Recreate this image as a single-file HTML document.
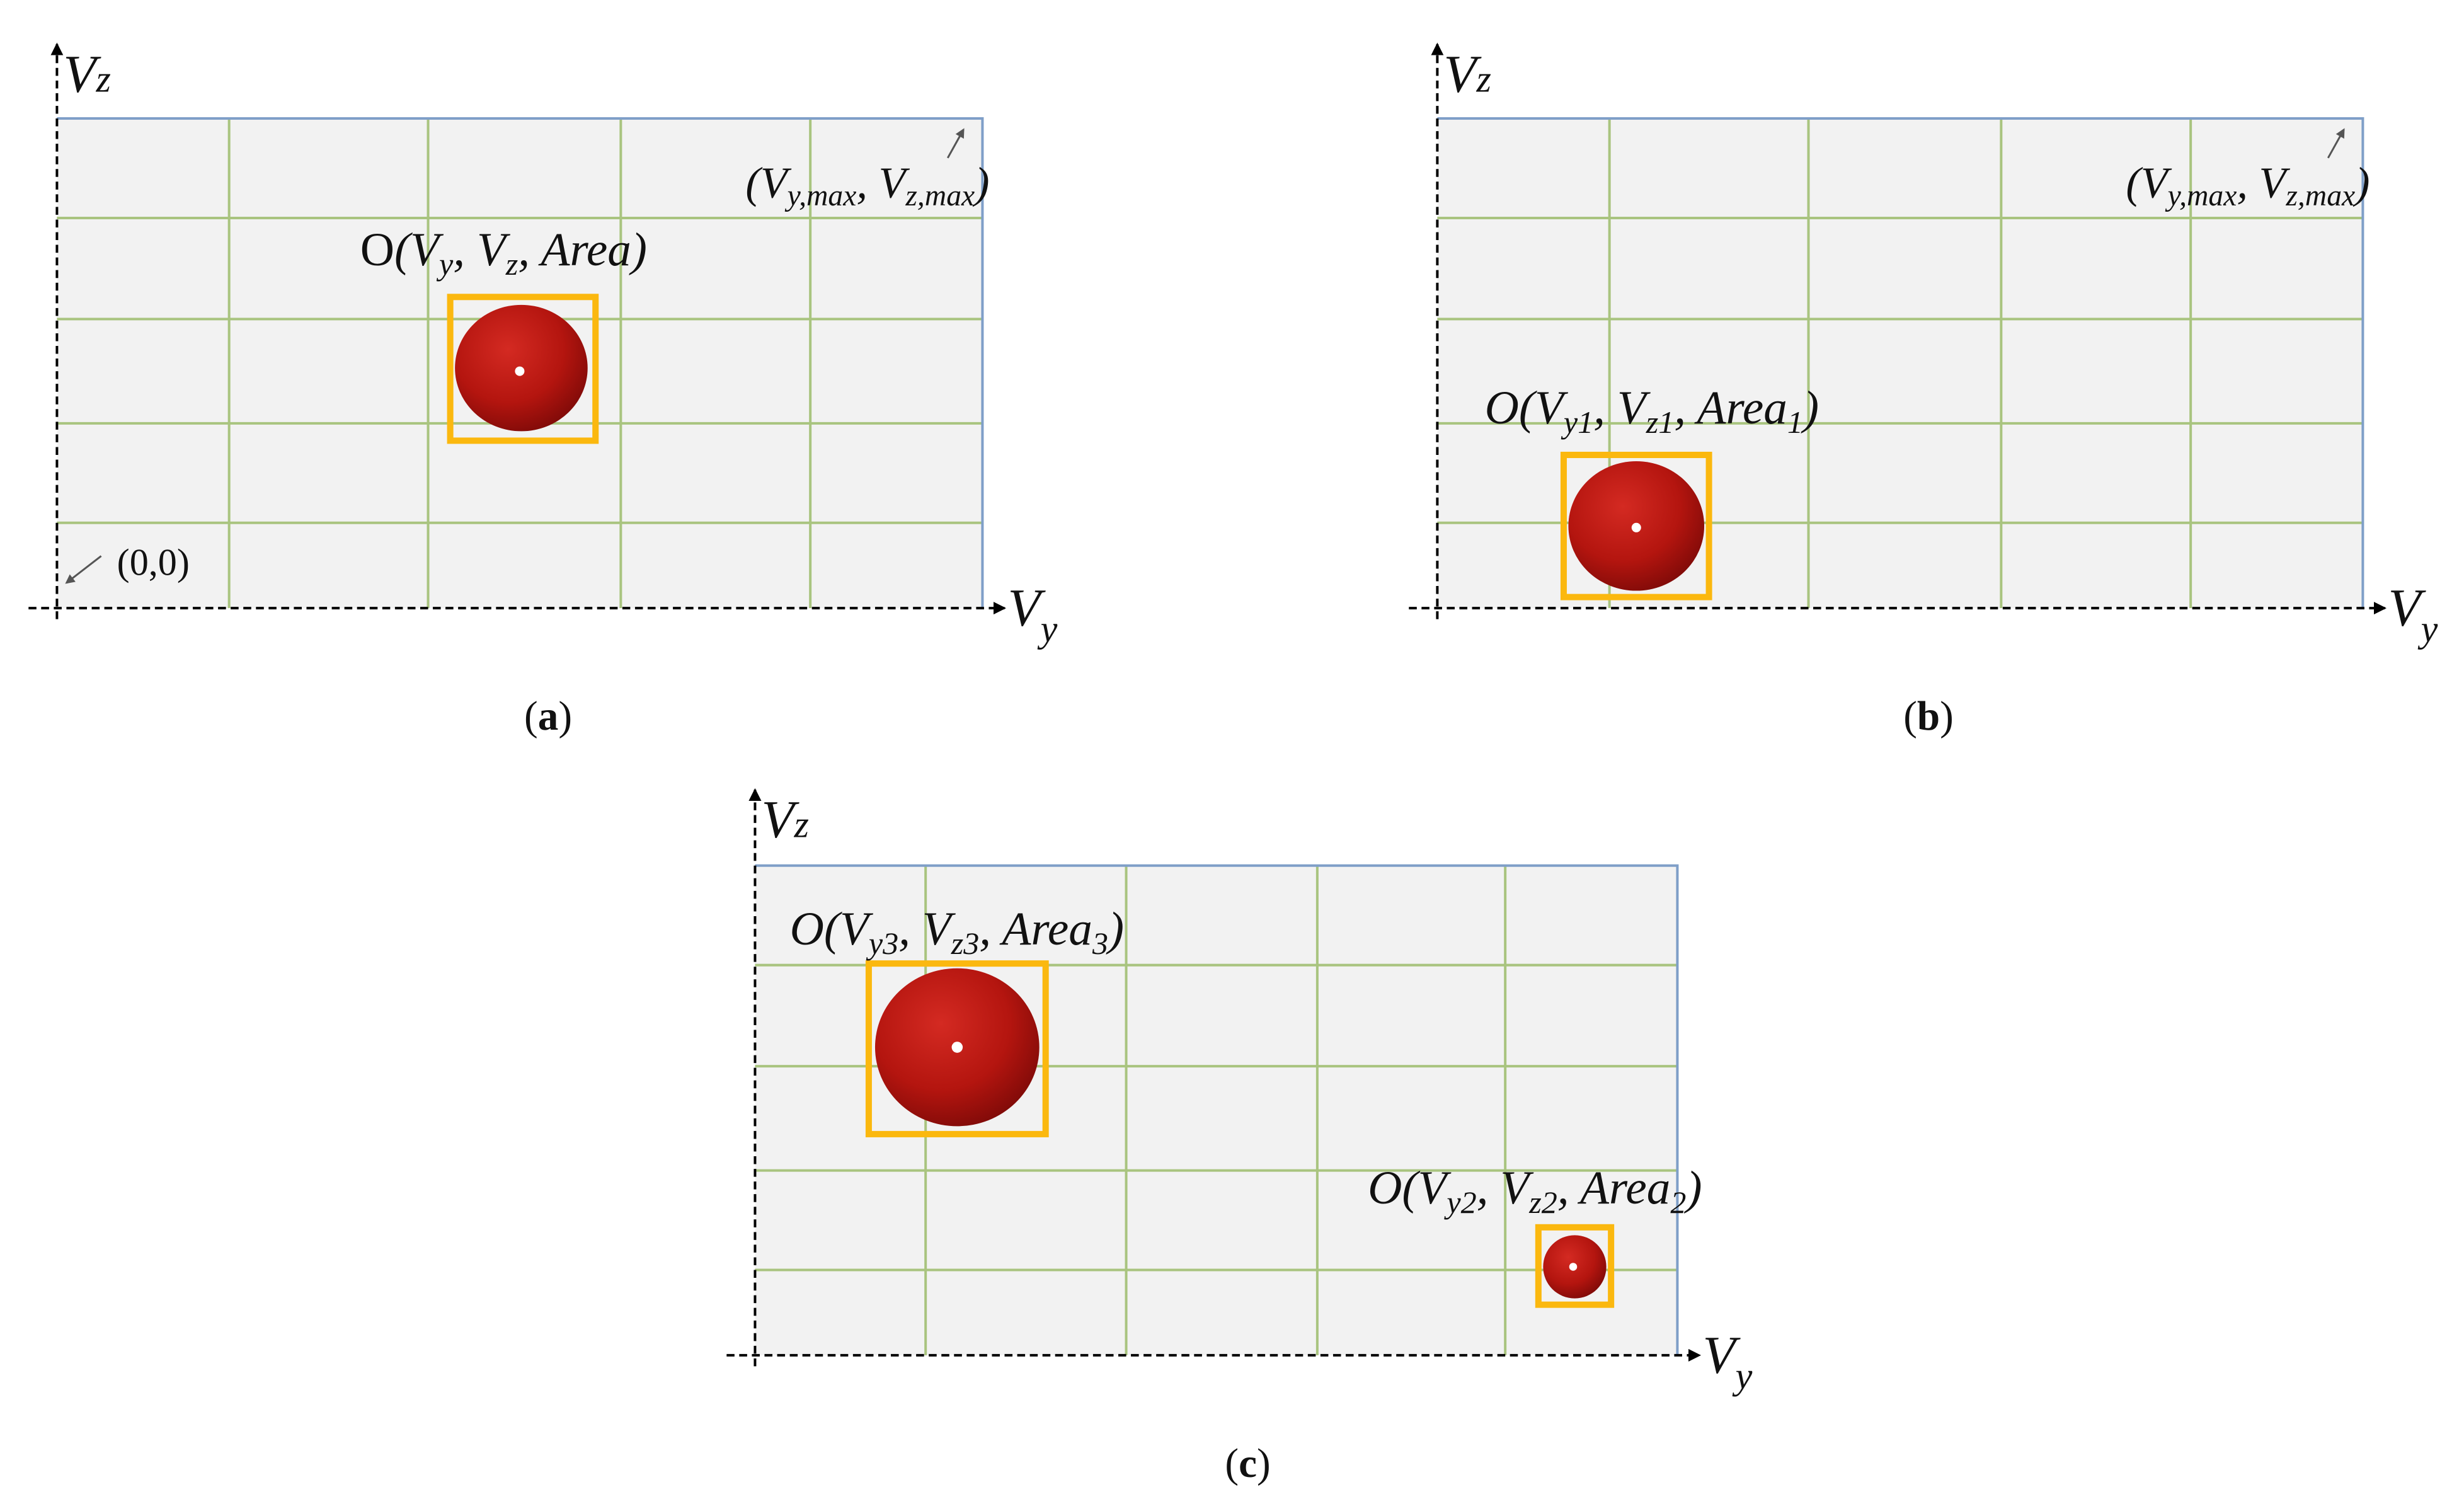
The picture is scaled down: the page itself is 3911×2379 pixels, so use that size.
<!DOCTYPE html>
<html><head><style>html,body{margin:0;padding:0;background:#fff}svg{display:block}</style></head>
<body>
<svg xmlns="http://www.w3.org/2000/svg" width="3911" height="2379" viewBox="0 0 1560 949">
<defs>
<radialGradient id="ball" cx="0.4" cy="0.35" r="0.7">
<stop offset="0" stop-color="#d42a22"/><stop offset="0.6" stop-color="#b4150f"/><stop offset="1" stop-color="#7e0a08"/>
</radialGradient>
<marker id="ar" markerWidth="8" markerHeight="8" refX="7" refY="4" orient="auto" markerUnits="userSpaceOnUse"><path d="M0,0 L8,4 L0,8 z" fill="#000"/></marker>
<marker id="ag" markerWidth="6" markerHeight="6" refX="5" refY="3" orient="auto" markerUnits="userSpaceOnUse"><path d="M0,0 L6,3 L0,6 z" fill="#555"/></marker>
</defs>
<g font-family="Liberation Serif, serif" font-style="italic" fill="#111">
<!-- Panel a -->
<rect x="36" y="75" width="586" height="310" fill="#f2f2f2"/>
<g stroke="#a9c47f" stroke-width="1.6">
<line x1="36" y1="138" x2="622" y2="138"/><line x1="36" y1="202" x2="622" y2="202"/><line x1="36" y1="268" x2="622" y2="268"/><line x1="36" y1="331" x2="622" y2="331"/>
<line x1="145" y1="75" x2="145" y2="385"/><line x1="271" y1="75" x2="271" y2="385"/><line x1="393" y1="75" x2="393" y2="385"/><line x1="513" y1="75" x2="513" y2="385"/>
</g>
<polyline points="36,75 622,75 622,385" fill="none" stroke="#7f9fc8" stroke-width="1.6"/>
<line x1="18" y1="385" x2="636" y2="385" stroke="#000" stroke-width="1.6" stroke-dasharray="5,3" marker-end="url(#ar)"/>
<line x1="36" y1="392" x2="36" y2="28" stroke="#000" stroke-width="1.6" stroke-dasharray="5,3" marker-end="url(#ar)"/>
<text x="40" y="58" font-size="34">V<tspan font-size="24">z</tspan></text>
<text x="638" y="396" font-size="34">V<tspan font-size="24" dy="10">y</tspan></text>
<rect x="285" y="188" width="92" height="91" fill="none" stroke="#fbb80f" stroke-width="4"/>
<ellipse cx="330" cy="233" rx="42" ry="40" fill="url(#ball)"/><circle cx="329" cy="235" r="3" fill="#fff"/>
<text x="228" y="168" font-size="30"><tspan font-style="normal">O</tspan>(V<tspan font-size="20" dy="6">y</tspan><tspan dy="-6">, V</tspan><tspan font-size="20" dy="6">z</tspan><tspan dy="-6">, Area)</tspan></text>
<text x="472" y="125" font-size="28">(V<tspan font-size="19" dy="5">y,max</tspan><tspan dy="-5">, V</tspan><tspan font-size="19" dy="5">z,max</tspan><tspan dy="-5">)</tspan></text>
<line x1="600" y1="100" x2="610" y2="82" stroke="#555" stroke-width="1.2" marker-end="url(#ag)"/>
<text x="74" y="364" font-size="24" font-style="normal">(0,0)</text>
<line x1="64" y1="352" x2="42" y2="369" stroke="#555" stroke-width="1.2" marker-end="url(#ag)"/>
<text x="347" y="462" font-size="26" font-style="normal" text-anchor="middle">(<tspan font-weight="bold">a</tspan>)</text>

<!-- Panel b -->
<rect x="910" y="75" width="586" height="310" fill="#f2f2f2"/>
<g stroke="#a9c47f" stroke-width="1.6">
<line x1="910" y1="138" x2="1496" y2="138"/><line x1="910" y1="202" x2="1496" y2="202"/><line x1="910" y1="268" x2="1496" y2="268"/><line x1="910" y1="331" x2="1496" y2="331"/>
<line x1="1019" y1="75" x2="1019" y2="385"/><line x1="1145" y1="75" x2="1145" y2="385"/><line x1="1267" y1="75" x2="1267" y2="385"/><line x1="1387" y1="75" x2="1387" y2="385"/>
</g>
<polyline points="910,75 1496,75 1496,385" fill="none" stroke="#7f9fc8" stroke-width="1.6"/>
<line x1="892" y1="385" x2="1510" y2="385" stroke="#000" stroke-width="1.6" stroke-dasharray="5,3" marker-end="url(#ar)"/>
<line x1="910" y1="392" x2="910" y2="28" stroke="#000" stroke-width="1.6" stroke-dasharray="5,3" marker-end="url(#ar)"/>
<text x="914" y="58" font-size="34">V<tspan font-size="24">z</tspan></text>
<text x="1512" y="396" font-size="34">V<tspan font-size="24" dy="10">y</tspan></text>
<rect x="990" y="288" width="92" height="90" fill="none" stroke="#fbb80f" stroke-width="4"/>
<ellipse cx="1036" cy="333" rx="43" ry="41" fill="url(#ball)"/><circle cx="1036" cy="334" r="3" fill="#fff"/>
<text x="940" y="268" font-size="30">O(V<tspan font-size="20" dy="6">y1</tspan><tspan dy="-6">, V</tspan><tspan font-size="20" dy="6">z1</tspan><tspan dy="-6">, Area</tspan><tspan font-size="20" dy="6">1</tspan><tspan dy="-6">)</tspan></text>
<text x="1346" y="125" font-size="28">(V<tspan font-size="19" dy="5">y,max</tspan><tspan dy="-5">, V</tspan><tspan font-size="19" dy="5">z,max</tspan><tspan dy="-5">)</tspan></text>
<line x1="1474" y1="100" x2="1484" y2="82" stroke="#555" stroke-width="1.2" marker-end="url(#ag)"/>
<text x="1221" y="462" font-size="26" font-style="normal" text-anchor="middle">(<tspan font-weight="bold">b</tspan>)</text>

<!-- Panel c -->
<rect x="478" y="548" width="584" height="310" fill="#f2f2f2"/>
<g stroke="#a9c47f" stroke-width="1.6">
<line x1="478" y1="611" x2="1062" y2="611"/><line x1="478" y1="675" x2="1062" y2="675"/><line x1="478" y1="741" x2="1062" y2="741"/><line x1="478" y1="804" x2="1062" y2="804"/>
<line x1="586" y1="548" x2="586" y2="858"/><line x1="713" y1="548" x2="713" y2="858"/><line x1="834" y1="548" x2="834" y2="858"/><line x1="953" y1="548" x2="953" y2="858"/>
</g>
<polyline points="478,548 1062,548 1062,858" fill="none" stroke="#7f9fc8" stroke-width="1.6"/>
<line x1="460" y1="858" x2="1076" y2="858" stroke="#000" stroke-width="1.6" stroke-dasharray="5,3" marker-end="url(#ar)"/>
<line x1="478" y1="865" x2="478" y2="500" stroke="#000" stroke-width="1.6" stroke-dasharray="5,3" marker-end="url(#ar)"/>
<text x="482" y="530" font-size="34">V<tspan font-size="24">z</tspan></text>
<text x="1078" y="869" font-size="34">V<tspan font-size="24" dy="10">y</tspan></text>
<rect x="550" y="610" width="112" height="108" fill="none" stroke="#fbb80f" stroke-width="4"/>
<ellipse cx="606" cy="663" rx="52" ry="50" fill="url(#ball)"/><circle cx="606" cy="663" r="3.5" fill="#fff"/>
<text x="500" y="598" font-size="30">O(V<tspan font-size="20" dy="6">y3</tspan><tspan dy="-6">, V</tspan><tspan font-size="20" dy="6">z3</tspan><tspan dy="-6">, Area</tspan><tspan font-size="20" dy="6">3</tspan><tspan dy="-6">)</tspan></text>
<rect x="974" y="777" width="46" height="49" fill="none" stroke="#fbb80f" stroke-width="4"/>
<ellipse cx="997" cy="802" rx="20" ry="20" fill="url(#ball)"/><circle cx="996" cy="802" r="2.5" fill="#fff"/>
<text x="866" y="762" font-size="30">O(V<tspan font-size="20" dy="6">y2</tspan><tspan dy="-6">, V</tspan><tspan font-size="20" dy="6">z2</tspan><tspan dy="-6">, Area</tspan><tspan font-size="20" dy="6">2</tspan><tspan dy="-6">)</tspan></text>
<text x="790" y="935" font-size="26" font-style="normal" text-anchor="middle">(<tspan font-weight="bold">c</tspan>)</text>
</g>
</svg>
</body></html>
